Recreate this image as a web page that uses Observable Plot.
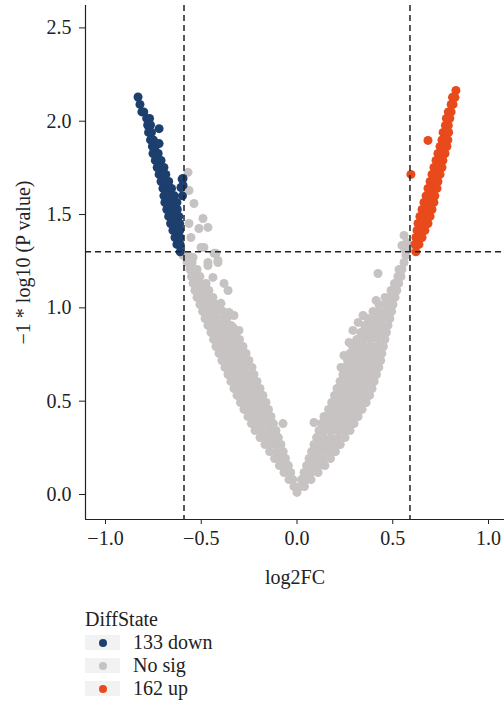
<!DOCTYPE html>
<html><head><meta charset="utf-8">
<script src="https://cdn.jsdelivr.net/npm/d3@7"></script>
<script src="https://cdn.jsdelivr.net/npm/@observablehq/plot@0.6"></script>
<style>
body{margin:0;background:#fff;font-family:"Liberation Serif",serif;color:#222}
#legend{padding-left:85px;margin-top:13px;font-size:20px;line-height:23px}
.row{display:flex;align-items:center;height:23px}
.key{width:35px;height:15px;background:#f2f2f2;position:relative;margin-right:13px}
.key span{position:absolute;left:14px;top:4px;width:8px;height:8px;border-radius:50%}
</style></head><body>
<div id="chart"></div>
<div id="legend"></div>
<script>
// Each row: [y, x1, x2, ...], row by row.
const grayLeftRows = [
[1.281,-0.595,-0.569],[1.243,-0.574,-0.548],[1.206,-0.559,-0.540,-0.522],[1.168,-0.551,-0.527,-0.507],
[1.131,-0.543,-0.509,-0.475],[1.093,-0.533,-0.496,-0.460],[1.056,-0.522,-0.494,-0.466,-0.439],
[1.018,-0.507,-0.475,-0.444,-0.415],[0.981,-0.493,-0.460,-0.423,-0.386],
[0.943,-0.480,-0.452,-0.423,-0.394,-0.366],[0.906,-0.465,-0.433,-0.405,-0.373,-0.345],
[0.868,-0.449,-0.418,-0.386,-0.352,-0.321],[0.831,-0.436,-0.402,-0.368,-0.334,-0.300],
[0.793,-0.423,-0.389,-0.352,-0.319,-0.282],[0.756,-0.407,-0.373,-0.337,-0.303,-0.266],
[0.718,-0.392,-0.358,-0.321,-0.287,-0.251],[0.681,-0.376,-0.342,-0.305,-0.272,-0.235],
[0.643,-0.360,-0.326,-0.292,-0.258,-0.225],[0.606,-0.345,-0.311,-0.277,-0.243,-0.209],
[0.568,-0.329,-0.295,-0.261,-0.227,-0.193],[0.531,-0.313,-0.279,-0.245,-0.211,-0.178],
[0.493,-0.295,-0.261,-0.227,-0.193,-0.162],[0.456,-0.277,-0.245,-0.214,-0.183,-0.149],
[0.418,-0.256,-0.225,-0.196,-0.164,-0.136],[0.380,-0.238,-0.209,-0.180,-0.151,-0.123],
[0.343,-0.219,-0.183,-0.146,-0.110],[0.305,-0.193,-0.162,-0.131,-0.097],
[0.268,-0.167,-0.138,-0.110,-0.084],[0.230,-0.143,-0.107,-0.072],[0.193,-0.117,-0.089,-0.060],
[0.155,-0.092,-0.068,-0.045],[0.118,-0.068,-0.033],[0.080,-0.042,-0.021],[0.043,-0.016],[0.011,0.000]
];
const grayRightRows = [
[1.281,0.569],[1.243,0.559],[1.206,0.533,0.548],[1.168,0.527,0.543],[1.131,0.509,0.531],
[1.093,0.491,0.521],[1.056,0.460,0.486,0.512],[1.018,0.428,0.465,0.501],
[0.981,0.397,0.429,0.462,0.494],[0.943,0.371,0.409,0.446,0.485],
[0.906,0.353,0.384,0.414,0.445,0.475],[0.868,0.333,0.367,0.400,0.433,0.467],
[0.831,0.312,0.349,0.385,0.422,0.459],[0.793,0.290,0.323,0.355,0.388,0.419,0.451],
[0.756,0.276,0.309,0.343,0.376,0.410,0.443],[0.718,0.264,0.298,0.333,0.368,0.402,0.437],
[0.681,0.251,0.286,0.321,0.356,0.392,0.427],[0.643,0.240,0.275,0.310,0.345,0.380,0.415],
[0.606,0.225,0.260,0.296,0.332,0.367,0.403],[0.568,0.209,0.245,0.282,0.319,0.355,0.392],
[0.531,0.196,0.232,0.269,0.305,0.343,0.379],[0.493,0.181,0.217,0.253,0.289,0.325,0.361],
[0.456,0.165,0.200,0.235,0.270,0.305,0.340],[0.418,0.141,0.177,0.212,0.248,0.284,0.319],
[0.380,0.128,0.162,0.196,0.230,0.264,0.298],[0.343,0.115,0.147,0.180,0.212,0.244,0.277],
[0.305,0.102,0.139,0.177,0.214,0.251],[0.268,0.089,0.123,0.157,0.191,0.226],
[0.230,0.076,0.107,0.138,0.169,0.201],[0.193,0.063,0.100,0.137,0.175],
[0.155,0.050,0.082,0.114,0.146],[0.118,0.037,0.073,0.110],[0.080,0.023,0.048,0.073],[0.043,0.016,0.039]
];
// Isolated grey points: [x, y]
const grayScatter = [
[-0.486,1.324],[-0.433,1.292],[-0.413,1.254],[-0.465,1.227],[-0.439,1.163],[-0.381,1.131],[-0.360,1.093],
[-0.397,1.024],[-0.355,0.975],[-0.329,0.959],[-0.334,0.895],[-0.303,0.879],[-0.319,0.825],
[-0.569,1.726],[-0.564,1.629],[-0.538,1.559],[-0.491,1.479],[-0.465,1.431],[-0.512,1.425],[-0.564,1.452],
[-0.554,1.377],[-0.501,1.324],[-0.423,1.292],[-0.465,1.243],[-0.413,1.243],[-0.543,1.270],[-0.073,0.380],
[0.559,1.388],[0.574,1.350],[0.548,1.334],[0.585,1.318],[0.564,1.308],[0.423,1.184],[0.413,1.040],
[0.345,0.959],[0.319,0.922],[0.292,0.879],[0.272,0.815],[0.245,0.745],[0.230,0.681],[0.089,0.386]
];
const downRows = [
[2.13,-0.83],[2.09,-0.82],[2.05,-0.81,-0.80],[2.015,-0.785,-0.77],[1.98,-0.78,-0.765],[1.94,-0.775,-0.76],
[1.90,-0.765,-0.75],[1.865,-0.755,-0.74],[1.827,-0.752,-0.738,-0.725],[1.79,-0.74,-0.725,-0.71],
[1.752,-0.73,-0.712,-0.695],[1.715,-0.72,-0.70,-0.685],[1.677,-0.71,-0.69,-0.67],[1.64,-0.70,-0.678,-0.655],
[1.60,-0.695,-0.668,-0.64],[1.565,-0.69,-0.665,-0.64,-0.627],[1.527,-0.68,-0.655,-0.625],
[1.49,-0.67,-0.645,-0.617],[1.452,-0.66,-0.635,-0.613],[1.415,-0.648,-0.627,-0.612],
[1.377,-0.637,-0.612],[1.34,-0.627,-0.61],[1.30,-0.61]
];
const downScatter = [[-0.72,1.96],[-0.72,1.88],[-0.595,1.656],[-0.60,1.69],[-0.598,1.60],[-0.606,1.645],[-0.595,1.693]];
const upRows = [
[2.165,0.830],[2.128,0.812,0.825],[2.09,0.805,0.815],[2.05,0.79,0.805],[2.015,0.78,0.798],[1.977,0.775,0.79],
[1.94,0.763,0.778,0.792],[1.90,0.757,0.772,0.788],[1.865,0.747,0.765,0.783],[1.827,0.736,0.755,0.773],
[1.79,0.726,0.745,0.762],[1.752,0.715,0.735,0.757],[1.715,0.705,0.725,0.747],[1.677,0.695,0.715,0.736],
[1.64,0.684,0.705,0.731],[1.60,0.674,0.695,0.72],[1.565,0.663,0.685,0.715],[1.527,0.653,0.675,0.705],
[1.49,0.642,0.665,0.695],[1.452,0.632,0.655,0.684],[1.415,0.627,0.648,0.668],[1.377,0.621,0.636,0.653],
[1.34,0.616,0.637],[1.30,0.621]
];
const upScatter = [[0.684,1.897],[0.595,1.715]];

const xDomain = [-1.1044, 1.0836];
const yDomain = [-0.134, 2.62];
const xTicks = [-1, -0.5, 0, 0.5, 1];
const yTicks = [0, 0.5, 1, 1.5, 2, 2.5];
const fcCut = [-0.59, 0.59];
const pCut = [1.301];
const legendTitle = "DiffState";
const legendLabels = ["133 down", "No sig", "162 up"];
const stateColors = ["#1c3f6e", "#c7c3c3", "#e84a1b"];

const fromRows = rows => rows.flatMap(([y, ...xs]) => xs.map(x => ({x, y})));
const fromPairs = p => p.map(([x, y]) => ({x, y}));
const gray = [...fromRows(grayLeftRows), ...fromRows(grayRightRows), ...fromPairs(grayScatter)];
const down = [...fromRows(downRows), ...fromPairs(downScatter)];
const up = [...fromRows(upRows), ...fromPairs(upScatter)];

const chart = Plot.plot({
  width: 504, height: 595,
  marginLeft: 85, marginRight: 0, marginTop: 5, marginBottom: 76,
  style: {fontFamily: "'Liberation Serif', serif", fontSize: "19px", color: "#222", background: "#fff", overflow: "visible"},
  x: {domain: xDomain, ticks: xTicks, tickFormat: ".1f", tickSize: 5, tickPadding: 6,
      label: null},
  y: {domain: yDomain, ticks: yTicks, tickFormat: ".1f", tickSize: 6, tickPadding: 8,
      label: null},
  marks: [
    Plot.dot(gray, {x: "x", y: "y", r: 4.5, fill: stateColors[1]}),
    Plot.dot(down, {x: "x", y: "y", r: 4.5, fill: stateColors[0]}),
    Plot.dot(up, {x: "x", y: "y", r: 4.5, fill: stateColors[2]}),
    Plot.ruleX(fcCut, {stroke: "#222", strokeWidth: 1.5, strokeDasharray: "6,4"}),
    Plot.ruleY(pCut, {stroke: "#222", strokeWidth: 1.5, strokeDasharray: "6,4"}),
    Plot.ruleX([xDomain[0]], {stroke: "#222", strokeWidth: 1.2}),
    Plot.ruleY([yDomain[0]], {stroke: "#222", strokeWidth: 1.2}),
    Plot.axisX({ticks: xTicks, tickFormat: ".1f", tickSize: 5, tickPadding: 6, label: "log2FC",
      labelAnchor: "center", labelOffset: 64, labelArrow: "none", fontSize: 20}),
    Plot.axisY({ticks: yTicks, tickFormat: ".1f", tickSize: 6, tickPadding: 8, label: "−1 * log10 (P value)",
      labelAnchor: "center", labelOffset: 70, labelArrow: "none", fontSize: 20})
  ]
});
document.getElementById("chart").appendChild(chart);

const lg = d3.select("#legend");
lg.append("div").attr("class", "row").text(legendTitle);
legendLabels.forEach((t, i) => {
  const r = lg.append("div").attr("class", "row");
  r.append("div").attr("class", "key").append("span").style("background", stateColors[i]);
  r.append("div").text(t);
});
</script></body></html>
